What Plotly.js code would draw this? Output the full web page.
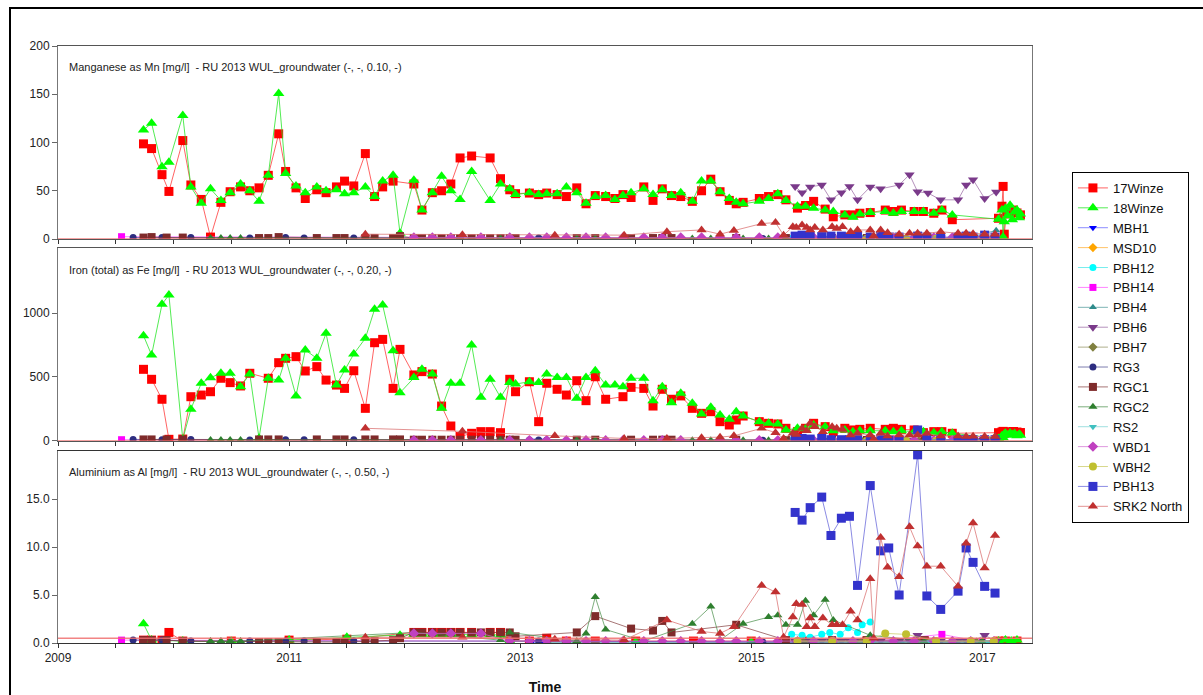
<!DOCTYPE html>
<html>
<head>
<meta charset="utf-8">
<script src="https://cdn.plot.ly/plotly-3.0.1.min.js"></script>
<style>
html,body{margin:0;padding:0;background:#fff;overflow:hidden;}
#wrap{position:relative;width:1203px;height:695px;}
#chart{position:absolute;left:0;top:0;width:1203px;height:695px;}
#frame{position:absolute;left:9px;top:7px;width:1300px;height:800px;border-left:2px solid #000;border-top:2px solid #000;pointer-events:none;}
</style>
</head>
<body>
<div id="wrap"><div id="chart"></div><div id="frame"></div></div>
<script>
// ---------- DATA (decimal years) ----------
const tWinze = [2009.74,2009.81,2009.90,2009.96,2010.08,2010.15,2010.24,2010.32,2010.41,2010.49,
 2010.58,2010.66,2010.74,2010.82,2010.91,2010.97,2011.06,2011.14,2011.24,2011.32,
 2011.41,2011.48,2011.56,2011.66,2011.74,2011.81,2011.90,2011.96,2012.08,2012.15,
 2012.24,2012.32,2012.40,2012.48,2012.58,2012.66,2012.74,2012.83,2012.91,2012.96,
 2013.08,2013.16,2013.23,2013.32,2013.40,2013.49,2013.57,2013.65,2013.74,2013.82,
 2013.89,2013.96,2014.07,2014.15,2014.23,2014.31,2014.39,2014.49,2014.57,2014.65,
 2014.73,2014.81,2014.87,2014.93,2015.07,2015.15,2015.23,2015.30,2015.40,2015.47,
 2015.54,2015.64,2015.71,2015.81,2015.88,2015.94,2016.03,2016.16,2016.23,2016.30,
 2016.41,2016.49,2016.58,2016.65,2016.74,2017.14];
const mn17 = [98.6,93.7,66.7,49.3,102,56,41,2,38,49,
 54,50,53,66,109,70,53,42,51,48,
 54,60,55,88.5,44,54,60,null,57,30,
 48,50,57,84,86,null,84,62.5,51,47,
 47.6,46,47.6,46,44,53,36.5,45,44,42,
 46,43,54,40,52,45,44,39,50,62,
 49,40,36.5,38,42,44,46,40.6,32,34.7,
 39,31,23,25,25,26.7,27.4,30,28.5,30,
 28.5,28.5,26.7,30,20,21.5];
const mn18 = [113,120,75,79.5,128,54,37,52,40,48,
 57,50,39,66,150.7,68,55,48,54,50,
 51,47,48,54,44,60,66,6,61,30,
 48,65,50,41,70,null,40,57,52,46,
 48,46,47,47,54,48,37,44,45,41,
 45,48,52,46,51,45,48,39,60,60,
 49,42,38,36.5,39,42,47,40,34,34,
 32,30,28.5,25,22.6,26,27.4,28.5,26.7,28.5,
 28.5,28.5,26.7,30,25,20.5];
const fe17 = [560,482,326,13,15,346,359,385,490,456,
 430,529,null,490,612,646,659,547,581,476,
 437,411,549,255,768,794,411,716,516,542,
 523,273,117,34,60,73,73,65,482,385,
 463,151,451,404,359,471,315,502,326,null,
 346,419,411,273,404,326,352,255,216,229,
 151,125,164,195,151,138,133,99,73,99,
 138,112,73,99,86,91,99,91,99,91,
 86,65,73,73,60,65];
const fe18 = [823,672,1068,1141,13,248,451,495,529,529,
 424,523,21,490,476,646,352,711,646,841,
 437,555,680,802,1029,1062,706,377,497,560,
 523,255,451,451,750,341,482,341,456,445,
 463,456,523,497,497,333,497,549,437,437,
 424,490,490,315,424,299,372,294,211,263,
 203,169,229,195,151,138,133,86,100,95,
 125,112,80,86,73,80,80,80,73,80,
 73,73,65,73,60,20];
// end-of-record dense sampling
const t17end = [2017.17,2017.18,2017.19,2017.21,2017.24,2017.27,2017.30,2017.33];
const mn17end = [34,54.5,5,28,26,30,27,25];
const fe17end = [70,75,60,72,68,74,70,66];
const t18end = [2017.17,2017.18,2017.19,2017.20,2017.22,2017.24,2017.26,2017.28,2017.30,2017.32,2017.33];
const mn18end = [30,2,18,32,24,35,20,28,30,22,26];
const fe18end = [40,25,55,60,45,62,50,58,40,52,45];
// aluminium for the winzes
const tAl17 = [2009.74,2009.81,2009.90,2009.96,2010.08,2010.50,2011.00,2011.50,2012.08,2012.15,
 2012.24,2012.32,2012.40,2012.48,2012.58,2012.74,2012.83,2012.91,2013.08,2013.23,
 2013.40,2013.65,2014.00,2014.50,2015.00,2015.50,2016.00,2016.50,2017.14,2017.20,2017.30];
const al17 = [0.3,0.3,0.3,1.1,0.2,0.2,0.3,0.4,1.1,1.1,
 1.1,1.1,1.1,1.1,1.1,1.1,1.1,0.2,0.2,0.5,
 0.2,0.2,0.2,0.2,0.2,0.2,0.2,0.2,0.2,0.2,0.2];
const tAl18 = [2009.74,2009.81,2010.08,2010.50,2011.00,2011.50,2011.96,2012.08,2012.15,2012.24,
 2012.32,2012.40,2012.48,2012.58,2012.74,2012.83,2012.91,2013.23,2014.00,2015.00,
 2016.00,2017.14,2017.20,2017.25,2017.30];
const al18 = [2.0,0.3,0.2,0.15,0.3,0.6,0.8,0.9,0.9,0.9,
 0.9,0.9,0.9,0.9,0.9,0.8,0.2,0.1,0.1,0.1,
 0.1,0.2,0.3,0.2,0.3];

const tMBH1 = [2013.10,2013.20,2015.40,2016.00,2016.50,2017.00];
const mnMBH1 = [0.5,0.5,0.8,0.8,0.8,1.0];
const feMBH1 = [3,3,3,3,3,3];
const alMBH1 = [0.1,0.1,0.1,0.1,0.1,0.1];

const tMSD10 = [2015.50,2016.00,2016.50,2017.00];
const mnMSD10 = [0.3,0.3,0.3,0.3];
const feMSD10 = [2,2,2,2];
const alMSD10 = [0.1,0.1,0.1,0.1];

const tPBH12 = [2015.35,2015.44,2015.51,2015.61,2015.68,2015.77,2015.84,2015.92,2015.96,2016.03];
const mnPBH12 = [0.5,0.5,0.5,0.5,0.5,0.5,0.5,0.5,0.5,0.5];
const fePBH12 = [3,3,3,3,3,3,3,3,3,3];
const alPBH12 = [0.9,0.8,0.6,0.9,1.1,0.9,1.6,1.1,1.9,2.2];

const tPBH14 = [2009.55,2015.40,2016.00,2016.65,2017.00];
const mnPBH14 = [2.4,0.5,0.5,0.5,0.5];
const fePBH14 = [10,2,2,2,2];
const alPBH14 = [0.3,0.1,0.1,0.9,0.1];

const tPBH4 = [2015.40,2015.70,2016.00,2016.30,2016.60,2016.90,2017.12];
const mnPBH4 = [1,1,1,1,1,2,9];
const fePBH4 = [5,5,5,5,5,5,10];
const alPBH4 = [0.1,0.1,0.1,0.1,0.1,0.1,0.1];

const tPBH6 = [2015.38,2015.44,2015.51,2015.61,2015.69,2015.78,2015.85,2015.92,2016.03,2016.12,
 2016.28,2016.37,2016.44,2016.53,2016.64,2016.79,2016.86,2016.92,2017.02,2017.12];
const mnPBH6 = [54.5,48,54,56,40.6,48,54.5,40.6,54,52,56,66.7,49,47.6,40.6,40.6,56,61.5,42,48.6];
const fePBH6 = [8,6,8,6,5,6,8,5,6,5,6,8,6,5,6,5,6,8,5,6];
const alPBH6 = [0.2,0.2,0.2,0.2,0.2,0.2,0.2,0.2,0.2,0.2,0.2,0.2,0.8,0.2,0.2,0.2,0.2,0.2,0.8,0.2];

const tPBH7 = [2015.45,2015.95,2016.45,2016.95];
const mnPBH7 = [0.3,0.3,0.3,0.3];
const fePBH7 = [2,2,2,2];
const alPBH7 = [0.1,0.1,0.1,0.1];

const tRG3 = [2009.65,2009.90,2010.15,2010.66,2010.97,2011.13,2011.56,2013.08,2013.16,2013.23,2015.10,2016.00,2017.00];
const mnRG3 = [1.5,1.5,1.5,1,1.5,1,1,1,1,1,0.5,0.5,0.5];
const feRG3 = [12,10,12,8,10,10,10,8,8,8,5,5,5];
const alRG3 = [0.3,0.3,0.2,0.2,0.2,0.2,0.2,0.2,0.2,0.2,0.1,0.1,0.1];

const tRGC1 = [2009.74,2009.81,2009.94,2010.08,2010.74,2010.82,2010.91,2011.24,2011.41,2011.48,
 2011.66,2011.74,2011.90,2011.96,2012.08,2012.15,2012.24,2012.32,2012.40,2012.48,
 2012.58,2012.66,2012.74,2012.83,2012.91,2012.96,2013.49,2013.65,2013.96,2014.15,
 2014.23,2014.31,2014.87,2015.30,2015.70,2016.00,2016.50];
const mnRGC1 = [1.5,2,1.5,1.5,1,1,2,1,1,1,
 1,1,1,3,1,1,1,1,1,1,
 1,1,1,1,1,1,1,1,1,1,
 1,1,1,1,1,1,1];
const feRGC1 = [12,12,12,12,12,12,12,12,12,12,
 12,12,12,12,10,10,10,10,10,10,
 10,10,10,10,10,10,10,10,10,10,
 10,10,10,8,8,8,8];
const alRGC1 = [0.3,0.3,0.3,0.2,0.1,0.1,0.1,0.1,0.1,0.1,
 0.15,0.2,0.3,0.5,1.1,1.1,1.1,1.1,1.1,1.1,
 1.1,1.1,1.1,1.1,1.1,0.7,1.1,2.8,1.5,1.3,
 2.3,1.1,1.9,0.3,0.3,0.3,0.3];

const tRGC2 = [2010.32,2010.41,2010.49,2010.58,2012.08,2012.83,2012.91,2013.49,2013.57,2013.65,
 2013.74,2014.07,2014.49,2014.65,2014.73,2014.93,2015.15,2015.23,2015.30,2015.40,
 2015.47,2015.54,2015.64,2015.71,2016.03,2016.50,2017.00];
const mnRGC2 = [1,1,1,1,0.5,0.5,0.5,0.5,0.5,0.5,0.5,0.5,0.5,0.5,0.5,0.5,0.5,0.5,0.5,0.5,0.5,0.5,0.5,0.5,0.5,0.5,0.5];
const feRGC2 = [8,8,8,8,5,5,5,5,5,5,5,5,5,5,5,5,5,5,5,5,5,5,5,5,5,5,5];
const alRGC2 = [0.2,0.2,0.2,0.2,1.1,0.3,1.1,0.2,1.0,4.8,
 1.4,0.2,2.0,3.8,0.3,2.0,2.7,2.9,1.9,1.9,
 4.4,2.9,4.5,2.4,0.8,0.2,0.2];

const tRS2 = [2015.55,2016.05,2016.55,2017.05];
const mnRS2 = [0.3,0.3,0.3,0.3];
const feRS2 = [2,2,2,2];
const alRS2 = [0.1,0.1,0.1,0.1];

const tWBD1 = [2012.08,2012.24,2012.40,2012.66,2012.91,2013.08,2013.23,2013.40,2013.57,2013.74,
 2013.89,2014.07,2014.23,2014.39,2014.57,2014.73,2014.87,2015.07,2015.23,2015.40,
 2015.54,2015.71,2015.88,2016.03,2016.23,2016.41,2016.58,2016.74,2016.90,2017.10];
const mnWBD1 = [1.5,1.5,1.5,1.5,1.5,1.5,1.5,1.5,1.5,1.5,1.5,1.5,1.5,1.5,1.5,1.5,1.5,1.5,1.5,1.5,1.5,1.5,1.5,1.5,1.5,1.5,1.5,1.5,1.5,1.5];
const feWBD1 = [6,6,6,6,6,6,6,6,6,6,6,6,6,6,6,6,6,6,6,6,6,6,6,6,6,6,6,6,6,6];
const alWBD1 = [1.0,1.0,1.0,1.0,0.2,0.2,0.2,0.2,0.2,0.2,0.2,0.2,0.2,0.2,0.2,0.2,0.2,0.2,0.2,0.2,0.2,0.2,0.2,0.2,0.2,0.2,0.2,0.2,0.2,0.2];

const tWBH2 = [2015.40,2015.70,2016.00,2016.16,2016.34,2016.60,2016.90,2017.10];
const mnWBH2 = [0.3,0.3,0.3,0.3,0.3,0.3,0.3,0.3];
const feWBH2 = [2,2,2,2,2,2,2,2];
const alWBH2 = [0.2,0.2,0.2,1.0,0.9,0.2,0.2,0.2];

const tPBH13 = [2015.38,2015.44,2015.51,2015.61,2015.69,2015.78,2015.85,2015.92,2016.03,2016.12,
 2016.19,2016.28,2016.44,2016.52,2016.64,2016.79,2016.86,2016.92,2017.02,2017.11];
const mnPBH13 = [3,4,3,2.5,3,3,2,3,2,3,2,2,3,2,2,2,3,2,4,2];
const fePBH13 = [15,20,15,20,10,10,10,10,10,10,10,10,86,10,10,10,10,10,10,10];
const alPBH13 = [13.6,12.8,14.1,15.2,11.2,13.0,13.2,6.0,16.4,9.6,9.9,5.0,19.6,4.9,3.5,5.4,9.9,8.4,5.9,5.2];

const tSRK2 = [2011.66,2012.50,2013.30,2013.90,2014.27,2014.57,2014.73,2014.85,2015.09,2015.21,
 2015.28,2015.36,2015.39,2015.44,2015.48,2015.51,2015.55,2015.62,2015.70,2015.74,
 2015.79,2015.86,2015.92,2016.03,2016.06,2016.12,2016.18,2016.28,2016.37,2016.44,
 2016.52,2016.64,2016.79,2016.86,2016.92,2017.02,2017.11];
const mnSRK2 = [5,4.5,4,4,7.6,9.4,5,8.7,16,17,
 4,12.8,12,14.6,12,9.4,12,9.4,12.8,11,
 12.8,7.6,9.4,9.4,3,9.4,6.6,5,5.9,5.9,
 5.9,7.6,5.9,5.9,5.5,5,5];
const feSRK2 = [99,75,40,20,20,25,30,40,99,65,
 20,60,50,99,80,138,112,73,112,99,
 90,47,60,47,15,60,39,47,47,47,
 60,39,39,34,36,34,34];
const alSRK2 = [0.6,0.6,0.4,0.3,2.4,1.2,1.0,1.7,6.0,5.3,
 0.6,2.7,4.1,4.0,1.7,2.6,1.7,2.6,1.9,1.9,
 1.9,3.3,2.4,6.7,0.5,11.0,7.9,6.9,12.1,10.1,
 8.0,8.0,5.9,10.4,12.5,7.8,11.2];

// guideline values per panel (Mn, Fe, Al)
const guideVals = [0.10, 0.20, 0.50];
const panelTitles = [
 "Manganese as Mn [mg/l] \u00a0- RU 2013 WUL_groundwater (-, -, 0.10, -)",
 "Iron (total) as Fe [mg/l] \u00a0- RU 2013 WUL_groundwater (-, -, 0.20, -)",
 "Aluminium as Al [mg/l] \u00a0- RU 2013 WUL_groundwater (-, -, 0.50, -)"
];
const xTickVals = [2009,2009.5,2010,2010.5,2011,2011.5,2012,2012.5,2013,2013.5,2014,2014.5,2015,2015.5,2016,2016.5,2017];
const xTickText = ['2009','','','','2011','','','','2013','','','','2015','','','','2017'];
const mnTicks = [0,50,100,150,200];
const feTicks = [0,500,1000];
const alTicks = [0,5,10,15];
const alTickText = ['0.0','5.0','10.0','15.0'];

// ---------- STYLE ----------
const series = [
 {name:'17Winze', sym:'square', col:'#ff0000', line:'rgba(255,60,60,0.8)', size:9,
  t:[tWinze.concat(t17end), tWinze.concat(t17end), tAl17],
  v:[mn17.concat(mn17end), fe17.concat(fe17end), al17]},
 {name:'18Winze', sym:'triangle-up', col:'#00ff00', line:'rgba(40,230,40,0.8)', size:10,
  t:[tWinze.concat(t18end), tWinze.concat(t18end), tAl18],
  v:[mn18.concat(mn18end), fe18.concat(fe18end), al18]},
 {name:'MBH1', sym:'triangle-down', col:'#0000ff', line:'rgba(90,90,255,0.7)', size:7, t:[tMBH1,tMBH1,tMBH1], v:[mnMBH1,feMBH1,alMBH1]},
 {name:'MSD10', sym:'diamond', col:'#ffa500', line:'rgba(255,170,40,0.7)', size:7, t:[tMSD10,tMSD10,tMSD10], v:[mnMSD10,feMSD10,alMSD10]},
 {name:'PBH12', sym:'circle', col:'#00ffff', line:'rgba(60,230,230,0.7)', size:7, t:[tPBH12,tPBH12,tPBH12], v:[mnPBH12,fePBH12,alPBH12]},
 {name:'PBH14', sym:'square', col:'#ff00ff', line:'rgba(255,80,255,0.7)', size:7, t:[tPBH14,tPBH14,tPBH14], v:[mnPBH14,fePBH14,alPBH14]},
 {name:'PBH4', sym:'triangle-up', col:'#2e8b8b', line:'rgba(70,150,150,0.7)', size:7, t:[tPBH4,tPBH4,tPBH4], v:[mnPBH4,fePBH4,alPBH4]},
 {name:'PBH6', sym:'triangle-down', col:'#7a3a8a', line:'rgba(150,100,160,0.7)', size:9, t:[tPBH6,tPBH6,tPBH6], v:[mnPBH6,fePBH6,alPBH6]},
 {name:'PBH7', sym:'diamond', col:'#808040', line:'rgba(140,140,90,0.7)', size:7, t:[tPBH7,tPBH7,tPBH7], v:[mnPBH7,fePBH7,alPBH7]},
 {name:'RG3', sym:'circle', col:'#2d2d80', line:'rgba(70,70,140,0.7)', size:7, t:[tRG3,tRG3,tRG3], v:[mnRG3,feRG3,alRG3]},
 {name:'RGC1', sym:'square', col:'#7f2b2b', line:'rgba(130,60,60,0.7)', size:8, t:[tRGC1,tRGC1,tRGC1], v:[mnRGC1,feRGC1,alRGC1]},
 {name:'RGC2', sym:'triangle-up', col:'#2f7f2f', line:'rgba(70,140,70,0.7)', size:8, t:[tRGC2,tRGC2,tRGC2], v:[mnRGC2,feRGC2,alRGC2]},
 {name:'RS2', sym:'triangle-down', col:'#40c0c0', line:'rgba(120,210,210,0.7)', size:7, t:[tRS2,tRS2,tRS2], v:[mnRS2,feRS2,alRS2]},
 {name:'WBD1', sym:'diamond', col:'#c040c0', line:'rgba(210,110,210,0.7)', size:8, t:[tWBD1,tWBD1,tWBD1], v:[mnWBD1,feWBD1,alWBD1]},
 {name:'WBH2', sym:'circle', col:'#c0c030', line:'rgba(200,200,90,0.7)', size:8, t:[tWBH2,tWBH2,tWBH2], v:[mnWBH2,feWBH2,alWBH2]},
 {name:'PBH13', sym:'square', col:'#3333cc', line:'rgba(110,110,220,0.8)', size:9, t:[tPBH13,tPBH13,tPBH13], v:[mnPBH13,fePBH13,alPBH13]},
 {name:'SRK2 North', sym:'triangle-up', col:'#c03030', line:'rgba(220,120,120,0.8)', size:9, t:[tSRK2,tSRK2,tSRK2], v:[mnSRK2,feSRK2,alSRK2]}
];

const xa = ['x','x2','x3'], ya = ['y','y2','y3'];
const traces = [];
series.forEach(s => {
  for (let p = 0; p < 3; p++) {
    traces.push({
      type:'scatter', mode:'lines+markers', name:s.name, legendgroup:s.name,
      showlegend:p===0, x:s.t[p], y:s.v[p], xaxis:xa[p], yaxis:ya[p],
      connectgaps:true,
      marker:{symbol:s.sym, size:s.size, color:s.col, line:{width:0}},
      line:{color:s.line, width:1}
    });
  }
});

const xRange = [2009, 2017.43];
const fontFam = 'Liberation Sans, Arial, sans-serif';
function xAxis(anchor, labels) {
  return {anchor:anchor, domain:[0,1], range:xRange, tickmode:'array', tickvals:xTickVals,
    ticktext:xTickText, showticklabels:labels, ticks:'outside', ticklen:4, tickcolor:'#333',
    showline:true, mirror:true, linecolor:'#555', linewidth:1, showgrid:false, zeroline:false,
    tickfont:{size:12, color:'#222'}};
}
function yAxis(anchor, dom, range, vals, txt) {
  return {anchor:anchor, domain:dom, range:range, tickmode:'array', tickvals:vals, ticktext:txt,
    ticks:'outside', ticklen:5, tickcolor:'#666', showline:true, mirror:true, linecolor:'#777',
    linewidth:1, showgrid:false, zeroline:false, tickfont:{size:12, color:'#222'}};
}
const x3 = xAxis('y3', true);
x3.title = {text:'<b>Time</b>', font:{size:14, color:'#111', family:fontFam}, standoff:18};
x3.linecolor = '#333';

const shapes = [];
for (let p = 0; p < 3; p++) {
  shapes.push({type:'line', xref: xa[p] + ' domain', x0:0, x1:1, yref:ya[p], y0:guideVals[p], y1:guideVals[p],
    line:{color:'rgba(240,110,110,0.85)', width:1.5}, layer:'above'});
}
const titleY = [0.965, 0.625, 0.287];
const annotations = panelTitles.map((t, i) => ({
  text:t, xref:'paper', yref:'paper', x:0.0095, y:titleY[i], xanchor:'left', yanchor:'middle',
  showarrow:false, font:{size:11, color:'#222', family:fontFam}
}));

const layout = {
  width:1203, height:695,
  margin:{l:58, r:171, t:46, b:52, autoexpand:false},
  paper_bgcolor:'#fff', plot_bgcolor:'#fff',
  font:{family:fontFam, size:12, color:'#222'},
  showlegend:true,
  legend:{x:1.041, xanchor:'left', y:0.789, yanchor:'top', bordercolor:'#000', borderwidth:1,
    bgcolor:'#fff', font:{size:13, color:'#111', family:fontFam}, tracegroupgap:0, itemwidth:30},
  xaxis: xAxis('y', false),
  xaxis2: xAxis('y2', false),
  xaxis3: x3,
  yaxis: yAxis('x', [0.6767, 1.0], [0, 200], mnTicks, mnTicks.map(String)),
  yaxis2: yAxis('x2', [0.3384, 0.6616], [0, 1508], feTicks, feTicks.map(String)),
  yaxis3: yAxis('x3', [0, 0.3216], [0, 20], alTicks, alTickText),
  shapes: shapes,
  annotations: annotations
};
Plotly.newPlot('chart', traces, layout, {displayModeBar:false, staticPlot:true});
</script>
</body>
</html>
